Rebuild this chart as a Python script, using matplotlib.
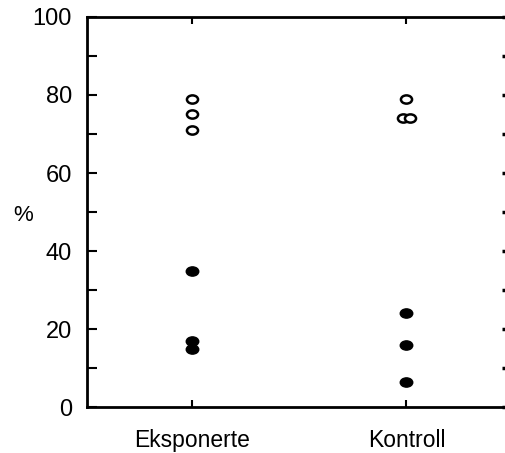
import matplotlib
matplotlib.use('Agg')
import matplotlib.pyplot as plt
from matplotlib.path import Path
import numpy as np

plt.rcParams['font.family'] = ['Liberation Sans', 'DejaVu Sans']

groups = ['Eksponerte', 'Kontroll']
open_eksp = [79, 75, 71]
open_kontr = [79, 74, 74]
filled_eksp = [35, 17, 15]
filled_kontr = [24, 16, 6.5]
# small side shift for points that sit on top of each other
shift_kontr = [0, -0.017, 0.017]

# slightly wide ellipse, as in the scanned figure
circ = Path.unit_circle()
ell = Path(circ.vertices * np.array([1.35, 1.0]), circ.codes)

fig = plt.figure(figsize=(5.06, 4.53), dpi=100)
ax = fig.add_axes([0.172, 0.1015, 0.826, 0.861])

ax.plot([0] * len(open_eksp), open_eksp, linestyle='none', marker=ell, ms=8,
        mfc='white', mec='black', mew=1.8)
ax.plot([1 + s for s in shift_kontr], open_kontr, linestyle='none', marker=ell, ms=8,
        mfc='white', mec='black', mew=1.8)
ax.plot([0] * len(filled_eksp), filled_eksp, linestyle='none', marker=ell, ms=9,
        mfc='black', mec='black')
ax.plot([1] * len(filled_kontr), filled_kontr, linestyle='none', marker=ell, ms=9,
        mfc='black', mec='black')

ax.set_xlim(-0.49, 1.46)
ax.set_ylim(0, 100)
ax.set_xticks([0, 1])
ax.set_xticklabels(groups, fontsize=16.5)
ax.set_yticks(np.arange(0, 101, 20))
ax.set_yticks(np.arange(10, 100, 20), minor=True)
ax.tick_params(axis='y', which='both', direction='in', length=7, width=1.5,
               labelsize=17, pad=11)
# right edge only shows small dots
ax.tick_params(axis='y', which='both', right=True, labelright=False)
for t in ax.yaxis.get_major_ticks() + ax.yaxis.get_minor_ticks():
    t.tick2line.set_markersize(2)
    t.tick2line.set_markeredgewidth(2.5)
ax.tick_params(axis='x', direction='in', length=5, width=1.5, pad=15.5, top=True)
ax.set_ylabel('%', rotation=0, fontsize=16, va='center', ha='center')
ax.yaxis.set_label_coords(-0.153, 0.49)

for side in ['left', 'bottom', 'top']:
    ax.spines[side].set_linewidth(2)
ax.spines['right'].set_visible(False)

fig.savefig('out.png', dpi=100)
